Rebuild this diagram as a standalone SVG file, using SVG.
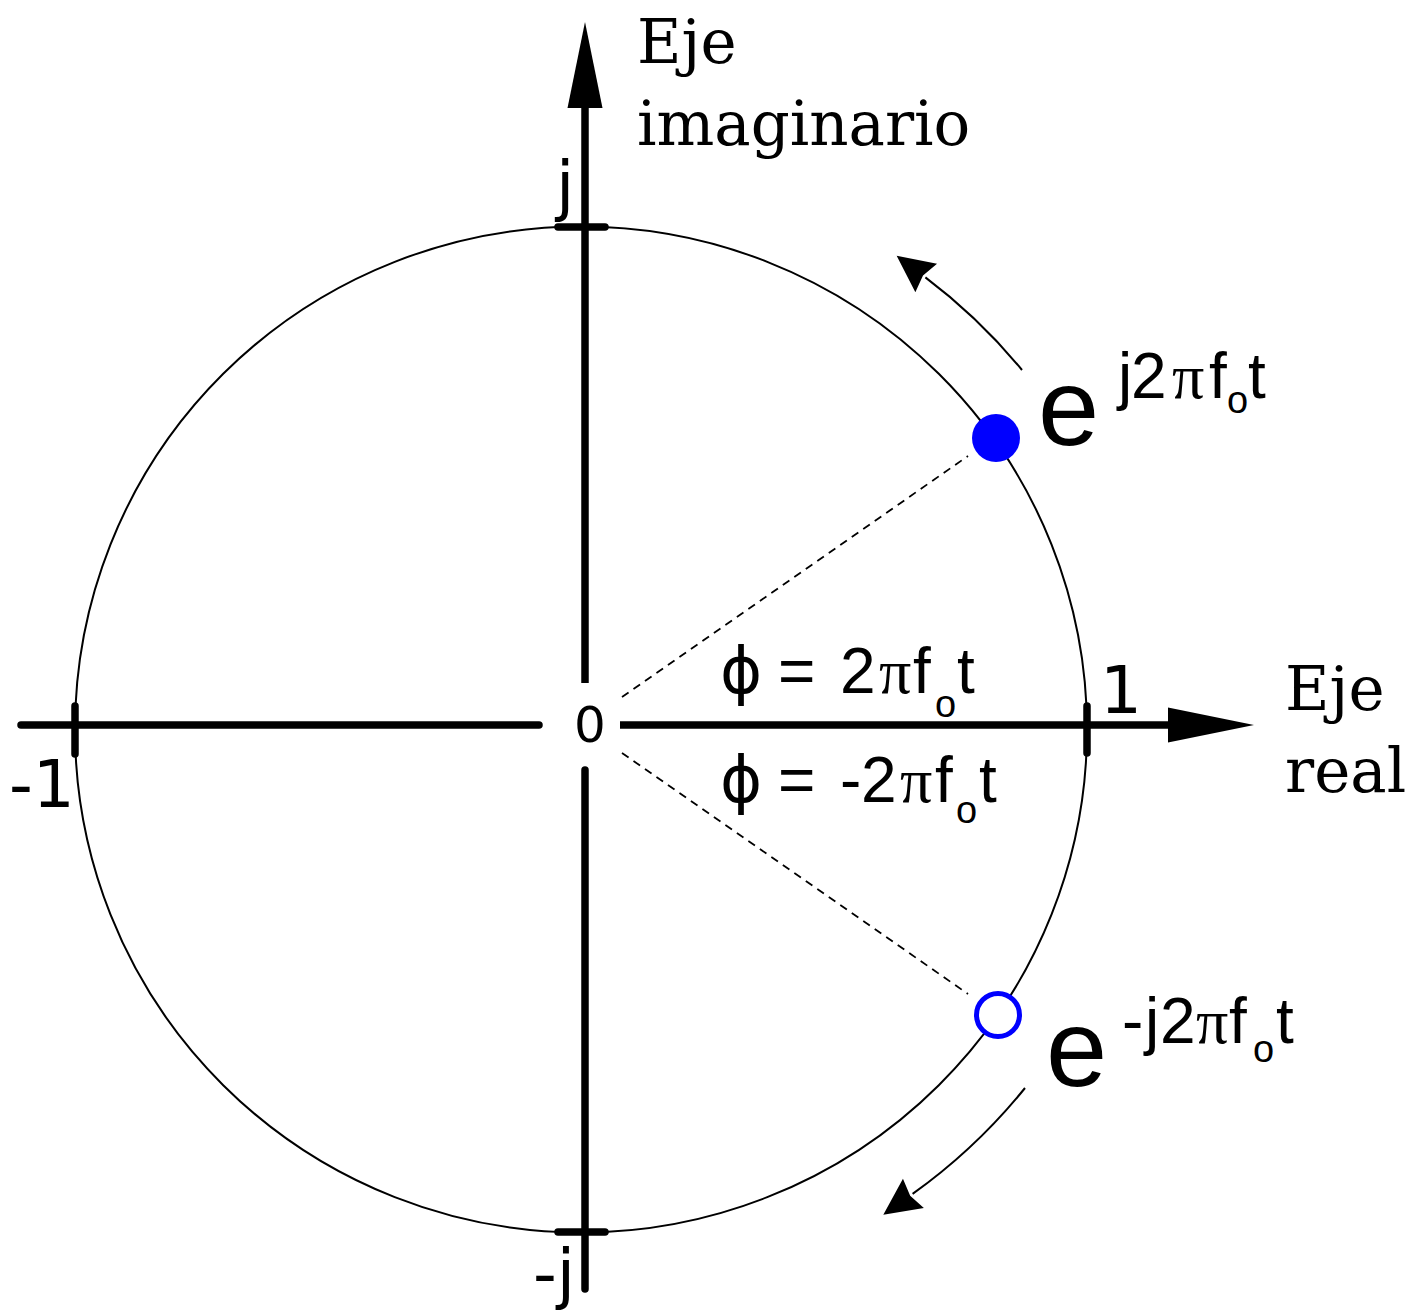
<svg xmlns="http://www.w3.org/2000/svg" width="1414" height="1311" viewBox="0 0 1414 1311">
<style>
.axis{stroke:#000;stroke-width:7.5;fill:none}
.tick{stroke:#000;stroke-width:7.5;stroke-linecap:round;fill:none}
.thin{stroke:#000;stroke-width:2;fill:none}
.dash{stroke:#000;stroke-width:1.8;stroke-dasharray:8 6;fill:none}
.serif{font-family:"DejaVu Serif","Liberation Serif",serif;font-size:61px;fill:#000}
.lab{font-family:"DejaVu Sans","Liberation Sans",sans-serif;font-size:66px;fill:#000}
.math{font-family:"Liberation Sans",Arial,sans-serif;font-size:64px;fill:#000}
.phi{font-family:"DejaVu Sans",sans-serif}
.pi{font-family:"Liberation Serif","DejaVu Serif",serif}
.sub{font-size:38px}
.big{font-family:"Liberation Sans",Arial,sans-serif;font-size:110px;fill:#000}
</style>
<defs>
<marker id="axArrow" markerUnits="userSpaceOnUse" orient="auto" overflow="visible" refX="0" refY="0" markerWidth="90" markerHeight="40">
<path d="M86,0 L0,-17.5 L0,17.5 Z" fill="#000"/>
</marker>
<marker id="cvArrow" markerUnits="userSpaceOnUse" orient="auto" overflow="visible" refX="0" refY="0" markerWidth="40" markerHeight="40">
<path d="M36,0 L-1,-18 L3,0 L-1,18 Z" fill="#000"/>
</marker>
</defs>
<rect width="1414" height="1311" fill="#fff"/>

<g id="unit-circle">
<ellipse cx="581" cy="729.5" rx="506" ry="503" class="thin"/>
</g>

<g id="axes">
<line x1="585" y1="683" x2="585" y2="108" class="axis" marker-end="url(#axArrow)"/>
<line x1="585" y1="770" x2="585" y2="1289" class="axis" style="stroke-linecap:round"/>
<line x1="21" y1="725" x2="539" y2="725" class="axis" style="stroke-linecap:round"/>
<line x1="620" y1="725" x2="1168" y2="725" class="axis" marker-end="url(#axArrow)"/>
</g>

<g id="ticks">
<line x1="558" y1="227" x2="605" y2="227" class="tick"/>
<line x1="558" y1="1232" x2="605" y2="1232" class="tick"/>
<line x1="75" y1="706" x2="75" y2="754" class="tick"/>
<line x1="1087" y1="706" x2="1087" y2="753" class="tick"/>
</g>

<g id="axis-labels">
<text class="serif" x="637" y="63">Eje</text>
<text class="serif" x="637" y="145">imaginario</text>
<text class="serif" x="1285" y="710">Eje</text>
<text class="serif" x="1285" y="792">real</text>
<text class="lab" x="556" y="208">j</text>
<text class="lab" x="533" y="1296">-j</text>
<text class="lab" x="9" y="807">-1</text>
<text class="lab" x="1100" y="713">1</text>
<text class="lab" x="574" y="742" style="font-size:50px">0</text>
</g>

<g id="connectors">
<line x1="622" y1="697" x2="968" y2="456" class="dash"/>
<line x1="622" y1="753" x2="968" y2="994" class="dash"/>
<path d="M1022,370 A568,568 0 0 0 925.4,277.4" class="thin" marker-end="url(#cvArrow)"/>
<path d="M1025,1088 A571,571 0 0 1 912.6,1193.9" class="thin" marker-end="url(#cvArrow)"/>
</g>

<g id="angle-labels">
<text class="math" y="693"><tspan x="720" class="phi">ϕ</tspan><tspan x="778">=</tspan><tspan x="840">2</tspan><tspan x="879" class="pi">π</tspan><tspan x="913">f</tspan><tspan x="935" y="717" class="sub">o</tspan><tspan x="957" y="693">t</tspan></text>
<text class="math" y="802"><tspan x="720" class="phi">ϕ</tspan><tspan x="778">=</tspan><tspan x="840">-</tspan><tspan x="861">2</tspan><tspan x="900" class="pi">π</tspan><tspan x="935">f</tspan><tspan x="956" y="823" class="sub">o</tspan><tspan x="979" y="802">t</tspan></text>
</g>

<g id="point-positive">
<circle cx="996" cy="438" r="24" fill="#0000ff"/>
<text class="big" x="1038" y="445">e</text>
<text class="math" y="398"><tspan x="1118">j</tspan><tspan x="1131">2</tspan><tspan x="1172" class="pi">π</tspan><tspan x="1209">f</tspan><tspan x="1227" y="413" class="sub">o</tspan><tspan x="1248" y="398">t</tspan></text>
</g>

<g id="point-negative">
<circle cx="998" cy="1015" r="21.5" fill="#fff" stroke="#0000ff" stroke-width="5"/>
<text class="big" x="1046" y="1086">e</text>
<text class="math" y="1043"><tspan x="1122">-</tspan><tspan x="1145">j</tspan><tspan x="1160">2</tspan><tspan x="1196" class="pi">π</tspan><tspan x="1229">f</tspan><tspan x="1253" y="1062" class="sub">o</tspan><tspan x="1276" y="1043">t</tspan></text>
</g>
</svg>
